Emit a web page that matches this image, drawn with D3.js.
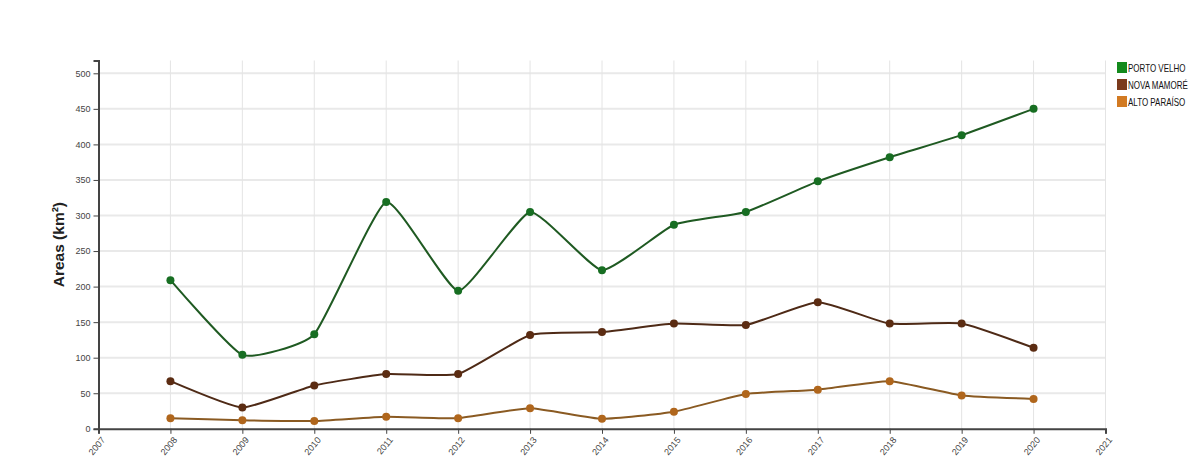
<!DOCTYPE html>
<html>
<head>
<meta charset="utf-8">
<script src="https://cdn.jsdelivr.net/npm/d3@7"></script>
<style>
  html, body { margin: 0; padding: 0; background: #fff; overflow: hidden; }
  svg { display: block; }
  .tick text { fill: #444; }
</style>
</head>
<body>
<svg id="chart" width="1190" height="470"></svg>
<script>
const years = [2008, 2009, 2010, 2011, 2012, 2013, 2014, 2015, 2016, 2017, 2018, 2019, 2020];
const portoVelho = [209, 104, 133, 319, 194, 305, 223, 287, 305, 348, 382, 413, 450];
const novaMamore = [67, 30, 61, 77, 77, 132, 136, 148, 146, 178, 148, 148, 114];
const altoParaiso = [15, 12, 11, 17, 15, 29, 14, 24, 49, 55, 67, 47, 42];
const seriesNames = ["PORTO VELHO", "NOVA MAMORÉ", "ALTO PARAÍSO"];
const xTicks = [2007, 2008, 2009, 2010, 2011, 2012, 2013, 2014, 2015, 2016, 2017, 2018, 2019, 2020, 2021];
const yTicks = [0, 50, 100, 150, 200, 250, 300, 350, 400, 450, 500];
const yAxisLabel = "Areas (km²)";

const lineColors = ["#1f5a22", "#4e2a16", "#8a5a22"];
const dotColors = ["#176e22", "#5b2c12", "#b0661c"];
const legendColors = ["#138a1c", "#7a3a1c", "#d27a22"];

const series = [portoVelho, novaMamore, altoParaiso].map((vals, i) => ({
  name: seriesNames[i],
  values: years.map((y, j) => ({ year: y, value: vals[j] })),
  line: lineColors[i], dot: dotColors[i], legend: legendColors[i]
}));

const svg = d3.select("#chart");
const pLeft = 98.5, pRight = 1105.5, pTop = 60.5, pBottom = 428.8;

const x = d3.scaleLinear().domain([2007, 2021]).range([pLeft, pRight]);
const y = d3.scaleLinear().domain([0, 518]).range([pBottom, pTop]);

// grid
const grid = svg.append("g");
grid.selectAll("line.h").data(yTicks.filter(d => d > 0)).enter().append("line")
  .attr("x1", pLeft).attr("x2", pRight)
  .attr("y1", d => y(d)).attr("y2", d => y(d))
  .attr("stroke", "#e9e9e9").attr("stroke-width", 2);
grid.selectAll("line.v").data(xTicks.filter(d => d > 2007)).enter().append("line")
  .attr("x1", d => x(d)).attr("x2", d => x(d))
  .attr("y1", pTop).attr("y2", pBottom)
  .attr("stroke", "#e4e4e4").attr("stroke-width", 1);

// axes
const xAxis = svg.append("g")
  .attr("transform", `translate(0,${pBottom})`)
  .call(d3.axisBottom(x).tickValues(xTicks).tickFormat(d3.format("d")).tickSize(5));
xAxis.select(".domain").attr("stroke", "#444").attr("stroke-width", 2);
xAxis.selectAll(".tick line").attr("stroke", "#444");
xAxis.selectAll("text")
  .attr("font-family", "Liberation Sans, Arial, sans-serif")
  .attr("font-size", 9)
  .style("text-anchor", "end")
  .attr("dx", "-0.5em").attr("dy", "0.5em")
  .attr("transform", "rotate(-50)");

const yAxis = svg.append("g")
  .attr("transform", `translate(${pLeft},0)`)
  .call(d3.axisLeft(y).tickValues(yTicks).tickSize(5));
yAxis.select(".domain").attr("stroke", "#444").attr("stroke-width", 2);
yAxis.selectAll(".tick line").attr("stroke", "#444");
yAxis.selectAll("text")
  .attr("font-family", "Liberation Sans, Arial, sans-serif")
  .attr("font-size", 9);

svg.append("text")
  .attr("transform", `translate(63.5,${(pTop + pBottom) / 2}) rotate(-90)`)
  .attr("text-anchor", "middle")
  .attr("font-family", "Liberation Sans, Arial, sans-serif")
  .attr("font-size", 15.5)
  .attr("font-weight", "bold")
  .attr("fill", "#222")
  .text(yAxisLabel);

// lines
const line = d3.line().x(d => x(d.year)).y(d => y(d.value)).curve(d3.curveCardinal.tension(0.55));
const sg = svg.selectAll("g.series").data(series).enter().append("g");
sg.append("path")
  .attr("d", d => line(d.values))
  .attr("fill", "none")
  .attr("stroke", d => d.line)
  .attr("stroke-width", 2);
sg.each(function(s) {
  d3.select(this).selectAll("circle").data(s.values).enter().append("circle")
    .attr("cx", d => x(d.year)).attr("cy", d => y(d.value))
    .attr("r", 4).attr("fill", s.dot);
});

// legend
const lg = svg.append("g").attr("transform", "translate(1117,62)");
const li = lg.selectAll("g").data(series).enter().append("g")
  .attr("transform", (d, i) => `translate(0,${i * 17})`);
li.append("rect").attr("width", 10).attr("height", 11).attr("fill", d => d.legend);
li.append("text")
  .attr("transform", "translate(11,9.5) scale(0.8,1)")
  .attr("font-family", "Liberation Sans, Arial, sans-serif")
  .attr("font-size", 10)
  .attr("fill", "#111")
  .text(d => d.name);
</script>
</body>
</html>
